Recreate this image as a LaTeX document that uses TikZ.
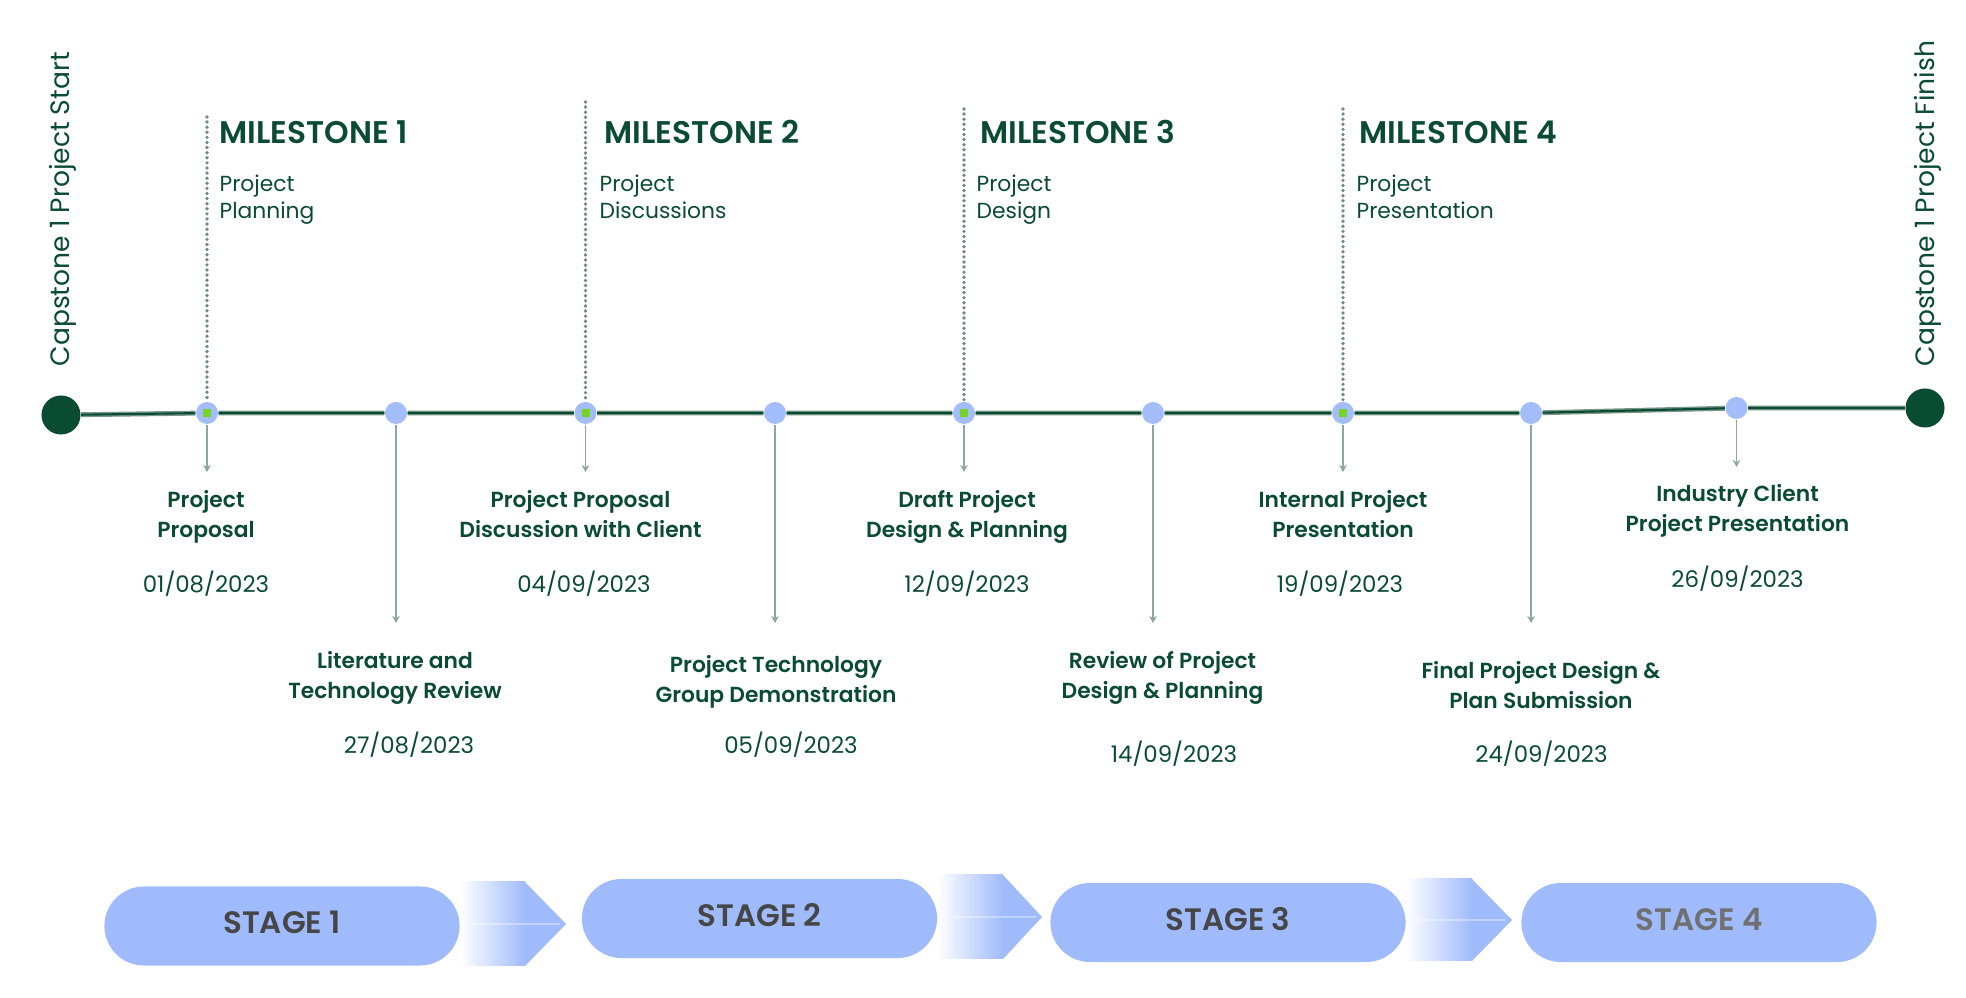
\documentclass[tikz,border=0pt]{standalone}
\usepackage{fontspec}
\setmainfont{Poppins}
\IfFontExistsTF{Poppins SemiBold}{\newfontfamily\semib{Poppins SemiBold}}{\newcommand\semib{\bfseries}}
\usetikzlibrary{arrows.meta}
\definecolor{dkgreen}{RGB}{10,76,50}
\definecolor{halo}{RGB}{120,150,135}
\definecolor{dotblue}{RGB}{163,188,250}
\definecolor{pillblue}{RGB}{160,187,252}
\definecolor{tickgreen}{RGB}{118,212,40}
\definecolor{arrgray}{RGB}{140,168,155}
\definecolor{dotgray}{RGB}{112,140,126}
\definecolor{stagetxt}{RGB}{70,70,70}
\definecolor{stagetxtb}{RGB}{112,112,112}
\newcommand\twoc[2]{\begin{tabular}[t]{@{}c@{}}#1\\#2\end{tabular}}
\newcommand\twol[2]{\begin{tabular}[t]{@{}l@{}}#1\\#2\end{tabular}}
\tikzset{
  bdot/.style={circle, fill=dotblue, inner sep=0pt, minimum size=0.22cm},
  mdot/.style={bdot, path picture={\fill[tickgreen] ([xshift=-0.04cm,yshift=-0.04cm]path picture bounding box.center) rectangle ++(0.08cm,0.08cm);}},
  enddot/.style={circle, fill=dkgreen, inner sep=0pt, minimum size=0.39cm},
  tline/.style={draw=halo, line width=0.4pt, double=dkgreen, double distance=0.6pt},
  darr/.style={draw=arrgray, line width=0.45pt, -{Stealth[length=2pt,width=2.2pt]}},
  dotl/.style={draw=dotgray, line width=1.05pt, line cap=round, dash pattern=on 0pt off 1.45pt},
  lab/.style={inner sep=0pt, text=dkgreen, font=\semib\fontsize{6.2pt}{8.25pt}\selectfont},
  datel/.style={inner sep=0pt, text=dkgreen, font=\fontsize{6.5pt}{8.25pt}\selectfont},
  head/.style={inner sep=0pt, text=dkgreen, font=\semib\fontsize{8.9pt}{10pt}\selectfont, anchor=base west},
  subl/.style={inner sep=0pt, text=dkgreen, font=\fontsize{6.2pt}{7.6pt}\selectfont, anchor=base west},
  vtext/.style={inner sep=0pt, text=dkgreen, font=\fontsize{7.55pt}{9pt}\selectfont, rotate=90, anchor=base west},
  pill/.style={rectangle, rounded corners=0.395cm, fill=pillblue, minimum width=3.55cm, minimum height=0.79cm,
     text=stagetxt, font=\semib\fontsize{8.8pt}{10pt}\selectfont, text height=0.72em, text depth=0.28em, inner sep=0pt},
}
\begin{document}
\begin{tikzpicture}[x=0.01cm, y=-0.01cm]
\path[use as bounding box, fill=white] (0,0) rectangle (1966,998);

% vertical texts
\node[vtext] (cstart) at (70,367) {Capstone 1 Project Start};
\node[vtext] (cfin) at (1934,367) {Capstone 1 Project Finish};

% timeline dots
\node[enddot] (st) at (61,415) {};
\node[mdot] (m1) at (207,413) {};
\node[bdot] (d2) at (396,413) {};
\node[mdot] (m2) at (585.5,413) {};
\node[bdot] (d4) at (775,413) {};
\node[mdot] (m3) at (964,413) {};
\node[bdot] (d6) at (1153,413) {};
\node[mdot] (m4) at (1343,413) {};
\node[bdot] (d8) at (1531,413) {};
\node[bdot] (d9) at (1736.5,408) {};
\node[enddot] (en) at (1925,408) {};

\draw[tline] (st) -- (m1) -- (d2) -- (m2) -- (d4) -- (m3) -- (d6) -- (m4) -- (d8) -- (d9) -- (en);

% dotted milestone lines
\coordinate (t1) at (207,117);
\coordinate (t2) at (585.5,102);
\coordinate (t3) at (964,109);
\coordinate (t4) at (1343,109);
\draw[dotl] (t1) -- (m1);
\draw[dotl] (t2) -- (m2);
\draw[dotl] (t3) -- (m3);
\draw[dotl] (t4) -- (m4);

% milestone headings
\node[head] (h1) at (219,143.5) {MILESTONE 1};
\node[head] (h2) at (604,143.5) {MILESTONE 2};
\node[head] (h3) at (979.5,143.5) {MILESTONE 3};
\node[head] (h4) at (1359,143.5) {MILESTONE 4};
\node[subl] (s1) at (219,191.5) {\twol{Project}{Planning}};
\node[subl] (s2) at (599,191.5) {\twol{Project}{Discussions}};
\node[subl] (s3) at (976,191.5) {\twol{Project}{Design}};
\node[subl] (s4) at (1356,191.5) {\twol{Project}{Presentation}};

% down arrows
\coordinate (a1) at (207,472);
\coordinate (a2) at (396,623);
\coordinate (a3) at (585.5,472);
\coordinate (a4) at (775,623);
\coordinate (a5) at (964,472);
\coordinate (a6) at (1153,623);
\coordinate (a7) at (1343,472);
\coordinate (a8) at (1531,623);
\coordinate (a9) at (1736.5,467);
\draw[darr] (m1) -- (a1);
\draw[darr] (d2) -- (a2);
\draw[darr] (m2) -- (a3);
\draw[darr] (d4) -- (a4);
\draw[darr] (m3) -- (a5);
\draw[darr] (d6) -- (a6);
\draw[darr] (m4) -- (a7);
\draw[darr] (d8) -- (a8);
\draw[darr] (d9) -- (a9);

% event labels
\node[lab, anchor=base] (e1) at (206,508) {\twoc{Project}{Proposal}};
\node[datel, anchor=base] (g1) at (206,593) {01/08/2023};
\node[lab, anchor=base] (e2) at (395,669) {\twoc{Literature and}{Technology Review}};
\node[datel, anchor=base] (g2) at (409,754) {27/08/2023};
\node[lab, anchor=base] (e3) at (580.5,508) {\twoc{Project Proposal}{Discussion with Client}};
\node[datel, anchor=base] (g3) at (584,593) {04/09/2023};
\node[lab, anchor=base] (e4) at (776,673) {\twoc{Project Technology}{Group Demonstration}};
\node[datel, anchor=base] (g4) at (791,754) {05/09/2023};
\node[lab, anchor=base] (e5) at (967,508) {\twoc{Draft Project}{Design \& Planning}};
\node[datel, anchor=base] (g5) at (967,593) {12/09/2023};
\node[lab, anchor=base] (e6) at (1162.5,669) {\twoc{Review of Project}{Design \& Planning}};
\node[datel, anchor=base] (g6) at (1174,763) {14/09/2023};
\node[lab, anchor=base] (e7) at (1343,508) {\twoc{Internal Project}{Presentation}};
\node[datel, anchor=base] (g7) at (1340,593) {19/09/2023};
\node[lab, anchor=base] (e8) at (1541,679) {\twoc{Final Project Design \&}{Plan Submission}};
\node[datel, anchor=base] (g8) at (1541.5,763) {24/09/2023};
\node[lab, anchor=base] (e9) at (1737.5,502) {\twoc{Industry Client}{Project Presentation}};
\node[datel, anchor=base] (g9) at (1737.5,588) {26/09/2023};

% stage chevrons (gradient)
\shade[left color=white, right color=pillblue] (460,882) rectangle (525,966);
\fill[pillblue] (525,882) -- (566,924) -- (525,966) -- cycle;
\draw[white, opacity=0.35, line width=0.4pt] (470,924) -- (560,924);
\shade[left color=white, right color=pillblue] (937,875) rectangle (1003,959);
\fill[pillblue] (1003,875) -- (1042,917) -- (1003,959) -- cycle;
\draw[white, opacity=0.35, line width=0.4pt] (947,917) -- (1036,917);
\shade[left color=white, right color=pillblue] (1405,879) rectangle (1472,961);
\fill[pillblue] (1472,879) -- (1512,920) -- (1472,961) -- cycle;
\draw[white, opacity=0.35, line width=0.4pt] (1415,920) -- (1506,920);

% stage pills
\node[pill] (p1) at (282,926) {STAGE 1};
\node[pill] (p2) at (759.5,918.5) {STAGE 2};
\node[pill] (p3) at (1228,922.5) {STAGE 3};
\node[pill, text=stagetxtb] (p4) at (1699,922.5) {STAGE 4};
\end{tikzpicture}
\end{document}
